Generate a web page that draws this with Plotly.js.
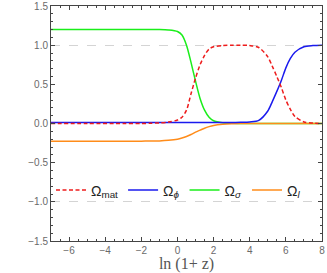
<!DOCTYPE html>
<html><head><meta charset="utf-8">
<script src="https://cdn.plot.ly/plotly-3.0.1.min.js"></script>
<style>body{margin:0;background:#fff}#c{width:327px;height:273px}</style>
</head><body><div id="c"></div>
<script>
// ln(1+z) sample points
const lnz = [-7,-5,-3,-2,-1.5,-1,-0.5,0,0.25,0.5,0.75,1,1.25,1.5,1.75,2,2.5,3,3.5,4,4.5,5,5.25,5.5,5.75,6,6.25,6.5,7,7.5,8];
const omegaMat   = [0,0,0,0,0.003,0.008,0.018,0.045,0.08,0.17,0.38,0.58,0.75,0.87,0.95,0.98,0.995,1.0,1.0,0.995,0.97,0.85,0.73,0.6,0.46,0.3,0.18,0.09,0.02,0.005,0.0];
const omegaPhi   = [0.012,0.012,0.012,0.012,0.012,0.012,0.012,0.012,0.012,0.012,0.012,0.012,0.012,0.012,0.012,0.012,0.012,0.012,0.015,0.02,0.04,0.16,0.28,0.41,0.55,0.71,0.83,0.91,0.98,0.995,1.0];
const omegaSigma = [1.2,1.2,1.2,1.2,1.2,1.2,1.195,1.175,1.13,1.0,0.78,0.54,0.32,0.17,0.08,0.035,0.01,0.002,0,0,0,0,0,0,0,0,0,0,0,0,0];
const omegaL     = [-0.225,-0.225,-0.225,-0.225,-0.224,-0.222,-0.215,-0.2,-0.185,-0.165,-0.14,-0.11,-0.085,-0.06,-0.04,-0.025,-0.01,-0.003,0,0,0,0,0,0,0,0,0,0,0,0,0];
const names = ['Ω<sub>mat</sub>','Ω<sub><i>ϕ</i></sub>','Ω<sub><i>σ</i></sub>','Ω<sub><i>l</i></sub>'];
const xTicks = [-6,-4,-2,0,2,4,6,8];
const yTicks = [-1.5,-1.0,-0.5,0.0,0.5,1.0,1.5];
const fmt = v => (v<0?'\u2212':'') + Math.abs(v).toFixed(1);
const fmtX = v => (v<0?'\u2212':'') + Math.abs(v);

const mk = (y, name, color, dash) => ({x: lnz, y: y, name: name, type:'scatter', mode:'lines',
  line:{color:color, width:1.5, dash:dash, shape:'spline', smoothing:0.8}});
const data = [
  mk(omegaSigma, names[2], '#1aee1a', 'solid'),
  mk(omegaL, names[3], '#ff8c1a', 'solid'),
  mk(omegaPhi, names[1], '#1a1aee', 'solid'),
  mk(omegaMat, names[0], '#ee1c1c', '4px,2.5px')
];
data[0].legendrank = 3; data[1].legendrank = 4; data[2].legendrank = 2; data[3].legendrank = 1;

const axBase = {showline:true, mirror:'ticks', linecolor:'#444', linewidth:1,
  ticks:'inside', ticklen:4, tickcolor:'#444', zeroline:false, showgrid:false,
  tickfont:{family:'Liberation Sans, Arial', size:10, color:'#6a6a6a'}};
const layout = {
  width:327, height:273, margin:{l:51, r:5, t:6, b:32},
  paper_bgcolor:'#fff', plot_bgcolor:'#fff', showlegend:true,
  xaxis: Object.assign({}, axBase, {range:[-7,8], tickvals:xTicks, ticktext:xTicks.map(fmtX),
    minor:{ticks:'inside', dtick:0.5, ticklen:2, tickcolor:'#444'},
    title:{text:'ln (1+ z)', font:{family:'Liberation Serif, Times New Roman', size:16, color:'#555'}, standoff:2}}),
  yaxis: Object.assign({}, axBase, {range:[-1.5,1.5], tickvals:yTicks, ticktext:yTicks.map(fmt),
    minor:{ticks:'inside', dtick:0.1, ticklen:2, tickcolor:'#444'}}),
  yaxis2: {overlaying:'y', matches:'y', range:[-1.5,1.5], tickvals:[-1,1], showticklabels:false,
    showgrid:true, gridcolor:'#d4d4d4', griddash:'dash', gridwidth:1, showline:false, zeroline:false, ticks:''},
  legend:{orientation:'h', x:0.0, y:0.215, xanchor:'left', yanchor:'middle', bgcolor:'rgba(0,0,0,0)',
    font:{family:'Liberation Sans, Arial', size:14, color:'#222'}, itemwidth:30,
    tracegroupgap:0, traceorder:'normal'}
};
data.unshift({x:[], y:[], yaxis:'y2', showlegend:false, hoverinfo:'skip', type:'scatter'});
Plotly.newPlot('c', data, layout, {staticPlot:true, displayModeBar:false});
</script></body></html>
